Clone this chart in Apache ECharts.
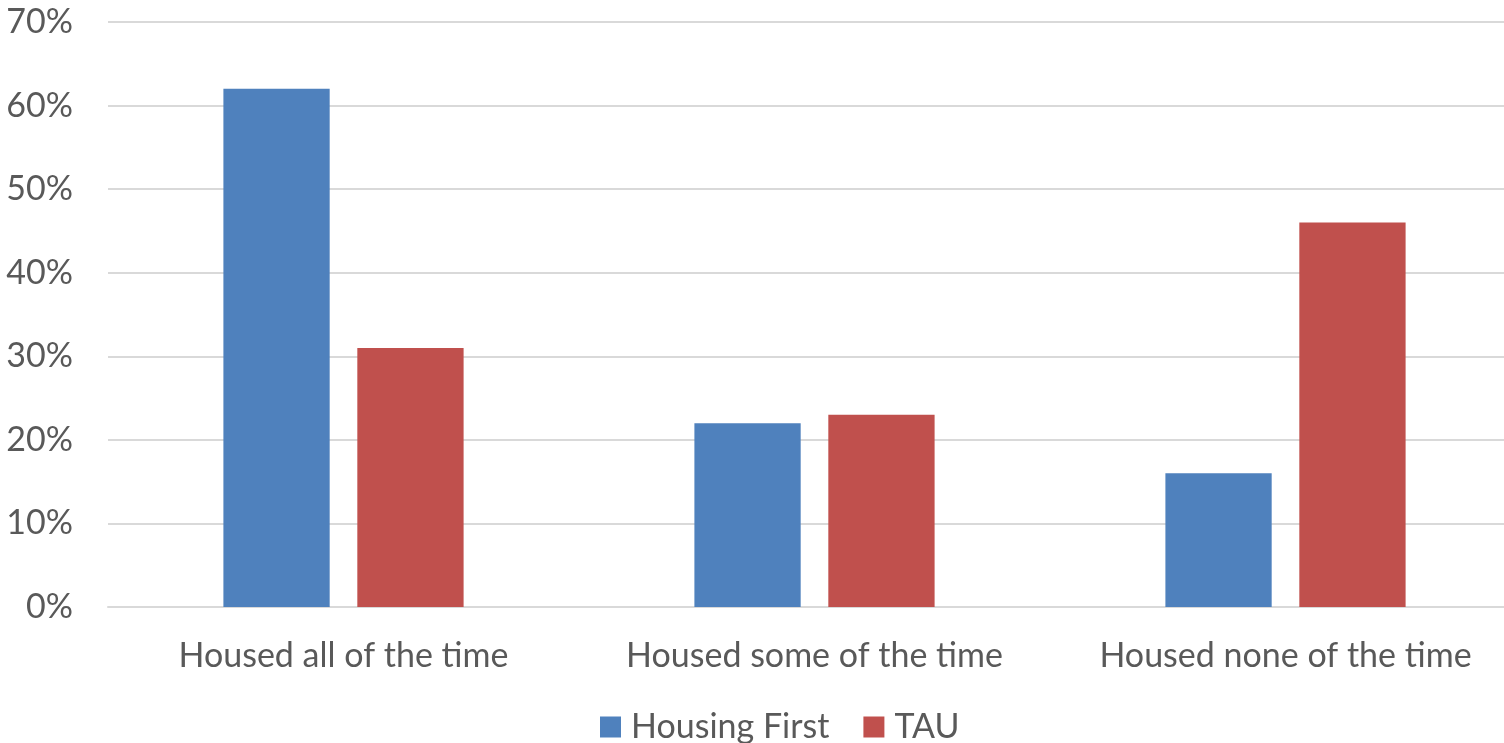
<!DOCTYPE html>
<html>
<head>
<meta charset="utf-8">
<script src="https://cdn.jsdelivr.net/npm/echarts@6/dist/echarts.min.js"></script>
<style>
html,body{margin:0;padding:0;background:#fff;overflow:hidden;}
#chart{width:1504px;height:743px;}
</style>
</head>
<body>
<div id="chart"></div>
<script>
const categories = ["Housed all of the time", "Housed some of the time", "Housed none of the time"];
const housingFirst = [62, 22, 16];
const tau = [31, 23, 46];
const seriesNames = ["Housing First", "TAU"];

const FONT = "Lato";
const chart = echarts.init(document.getElementById('chart'), null, {renderer: 'canvas'});
chart.setOption({
  animation: false,
  textStyle: {fontFamily: FONT},
  grid: {left: 108, width: 1413, top: 22, bottom: 136, containLabel: false, outerBoundsMode: 'none'},
  legend: {
    data: seriesNames,
    top: 710,
    left: 600,
    padding: 0,
    itemWidth: 21,
    itemHeight: 21,
    itemGap: 34,
    icon: 'rect',
    textStyle: {fontFamily: FONT, fontSize: 34, color: '#595959', padding: [0, 0, 0, 5]}
  },
  xAxis: {
    type: 'category',
    data: categories,
    axisLine: {show: true, lineStyle: {color: '#d9d9d9', width: 2}},
    axisTick: {show: false},
    axisLabel: {interval: 0, fontFamily: FONT, fontSize: 34, color: '#595959', margin: 32}
  },
  yAxis: {
    type: 'value',
    min: 0,
    max: 70,
    interval: 10,
    axisLine: {show: false},
    axisTick: {show: false},
    splitLine: {lineStyle: {color: '#d9d9d9', width: 2}},
    axisLabel: {formatter: '{value}%', fontFamily: FONT, fontSize: 34, color: '#595959', margin: 35}
  },
  series: [
    {name: seriesNames[0], type: 'bar', data: housingFirst, itemStyle: {color: '#4F81BD'}, barGap: '26%', barCategoryGap: '49%'},
    {name: seriesNames[1], type: 'bar', data: tau, itemStyle: {color: '#C0504D'}, barGap: '26%', barCategoryGap: '49%'}
  ]
});
</script>
</body>
</html>
